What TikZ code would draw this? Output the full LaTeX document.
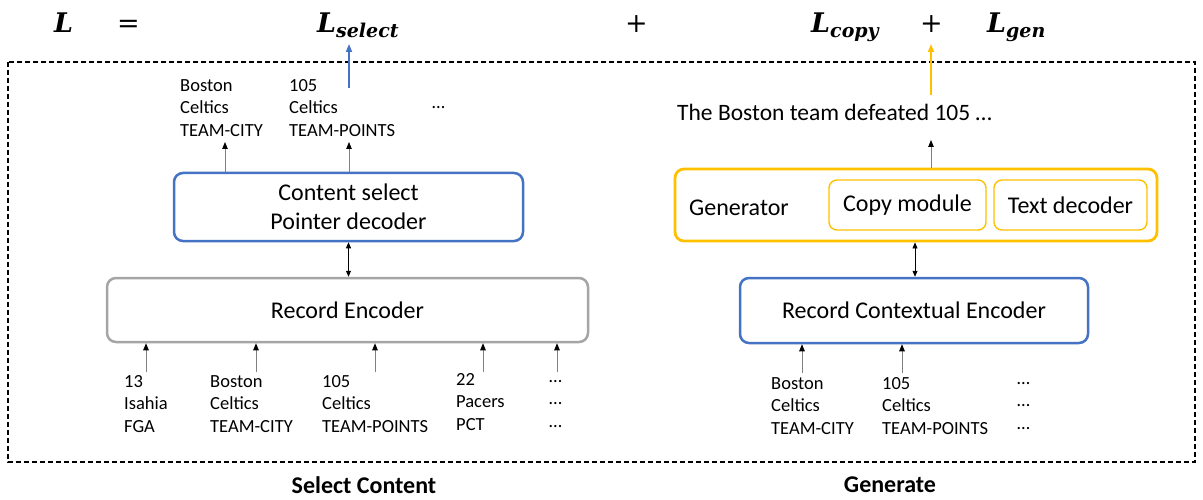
\documentclass[tikz,border=0pt]{standalone}
\usepackage{fontspec}
\setmainfont{Carlito}
\newfontfamily\mserif{DejaVu Serif}
\usetikzlibrary{arrows.meta}
\definecolor{cblue}{HTML}{4472C4}
\definecolor{cyel}{HTML}{FFC000}
\definecolor{cgray}{HTML}{A5A5A5}
\newcommand{\lossterm}[1]{{\mserif\bfseries\itshape\fontsize{27}{27}\selectfont L}\raisebox{-5pt}{\mserif\bfseries\itshape\fontsize{19}{19}\selectfont #1}}
\begin{document}
\begin{tikzpicture}[x=1pt,y=-1pt,
  big/.style={font=\fontsize{24}{29}\selectfont, align=center},
  small/.style={font=\fontsize{18.5}{22.5}\selectfont, align=left, inner sep=0pt, anchor=west},
  box/.style={draw, rounded corners=9pt, line width=2.5pt, inner sep=0pt, font=\fontsize{24}{29}\selectfont, align=center},
  ibox/.style={draw=cyel, rounded corners=8pt, line width=1.4pt, inner sep=0pt, font=\fontsize{24}{29}\selectfont},
  arr/.style={draw=gray, line width=0.8pt, -{Triangle[length=7pt,width=5.5pt,color=black]}},
  darr/.style={draw=black, line width=0.8pt, {Triangle[length=6pt,width=5pt]}-{Triangle[length=6pt,width=5pt]}},
  loss/.style={line width=1.6pt, -{Triangle[length=8pt,width=6pt]}},
  ttl/.style={font=\fontsize{24}{29}\selectfont\bfseries},
  eq/.style={inner sep=0pt, anchor=base, font=\mserif\fontsize{27}{27}\selectfont},
]
\useasboundingbox (0,0) rectangle (1203,500);

% dashed frame
\draw[line width=1.2pt, dash pattern=on 5pt off 3pt] (8,62) rectangle (1195,462);

% loss equation
\node[eq] (L) at (63.5,33) {\lossterm{}};
\node[eq] (eq) at (128.5,33) {=};
\node[eq, anchor=base west] (Ls) at (317,33) {\lossterm{select}};
\node[eq] (p1) at (636.5,33) {+};
\node[eq, anchor=base west] (Lc) at (811,33) {\lossterm{copy}};
\node[eq] (p2) at (931.5,33) {+};
\node[eq, anchor=base west] (Lg) at (987,33) {\lossterm{gen}};

% ---------- left part ----------
\node[box, draw=cblue, minimum width=349pt, minimum height=68pt] (cs) at (348.5,207) {Content select\\Pointer decoder};
\node[box, draw=cgray, minimum width=481pt, minimum height=64pt] (re) at (347.5,310) {Record Encoder};

\node[small] (t1) at (180,108) {Boston\\Celtics\\TEAM-CITY};
\node[small] (t2) at (289,108) {105\\Celtics\\TEAM-POINTS};
\node[small] (t3) at (432,108) {…};

\coordinate (ta1) at (225,142);
\coordinate (ta2) at (349,142);
\draw[arr] (cs.north -| ta1) -- (ta1);
\draw[arr] (cs.north -| ta2) -- (ta2);

\coordinate (bs) at (349,88);
\coordinate (bt) at (349,44);
\draw[loss, cblue] (bs) -- (bt);

\draw[darr] (cs.south) -- (re.north -| cs.south);

\node[small] (b1) at (124,404) {13\\Isahia\\FGA};
\node[small] (b2) at (210,404) {Boston\\Celtics\\TEAM-CITY};
\node[small] (b3) at (322,404) {105\\Celtics\\TEAM-POINTS};
\node[small] (b4) at (456,402) {22\\Pacers\\PCT};
\node[small] (b5) at (549,404) {…\\…\\…};

\foreach \x [count=\i] in {146,256,375,483,557} {
  \coordinate (ba\i) at (\x,372);
  \draw[arr] (ba\i) -- (re.south -| ba\i);
}

% ---------- right part ----------
\node[small, font=\fontsize{23.5}{28}\selectfont] (out) at (677,112) {The Boston team defeated 105 …};
\coordinate (ys) at (931,95);
\coordinate (yt) at (931,44);
\draw[loss, cyel] (ys) -- (yt);

\node[box, draw=cyel, line width=2.8pt, minimum width=482pt, minimum height=72pt] (gen) at (916,205) {};
\node[inner sep=0pt, font=\fontsize{24}{29}\selectfont] (gl) at (739,208) {Generator};
\node[ibox, minimum width=157pt, minimum height=50pt] (cm) at (907.5,205) {Copy module};
\node[ibox, minimum width=153pt, minimum height=50pt] (td) at (1070.5,205) {Text decoder};

\coordinate (oa) at (931,140);
\draw[arr] (gen.north -| oa) -- (oa);

\node[box, draw=cblue, minimum width=348pt, minimum height=65pt] (rce) at (914,310.5) {Record Contextual Encoder};
\coordinate (dx) at (915,0);
\draw[darr] (gen.south -| dx) -- (rce.north -| dx);

\node[small] (r1) at (771,406) {Boston\\Celtics\\TEAM-CITY};
\node[small] (r2) at (882,406) {105\\Celtics\\TEAM-POINTS};
\node[small] (r3) at (1017,406) {…\\…\\…};

\coordinate (ra1) at (802,373);
\coordinate (ra2) at (902,373);
\draw[arr] (ra1) -- (rce.south -| ra1);
\draw[arr] (ra2) -- (rce.south -| ra2);

% titles
\node[ttl] (sc) at (364,485) {Select Content};
\node[ttl] (gt) at (890,485) {Generate};
\end{tikzpicture}
\end{document}
